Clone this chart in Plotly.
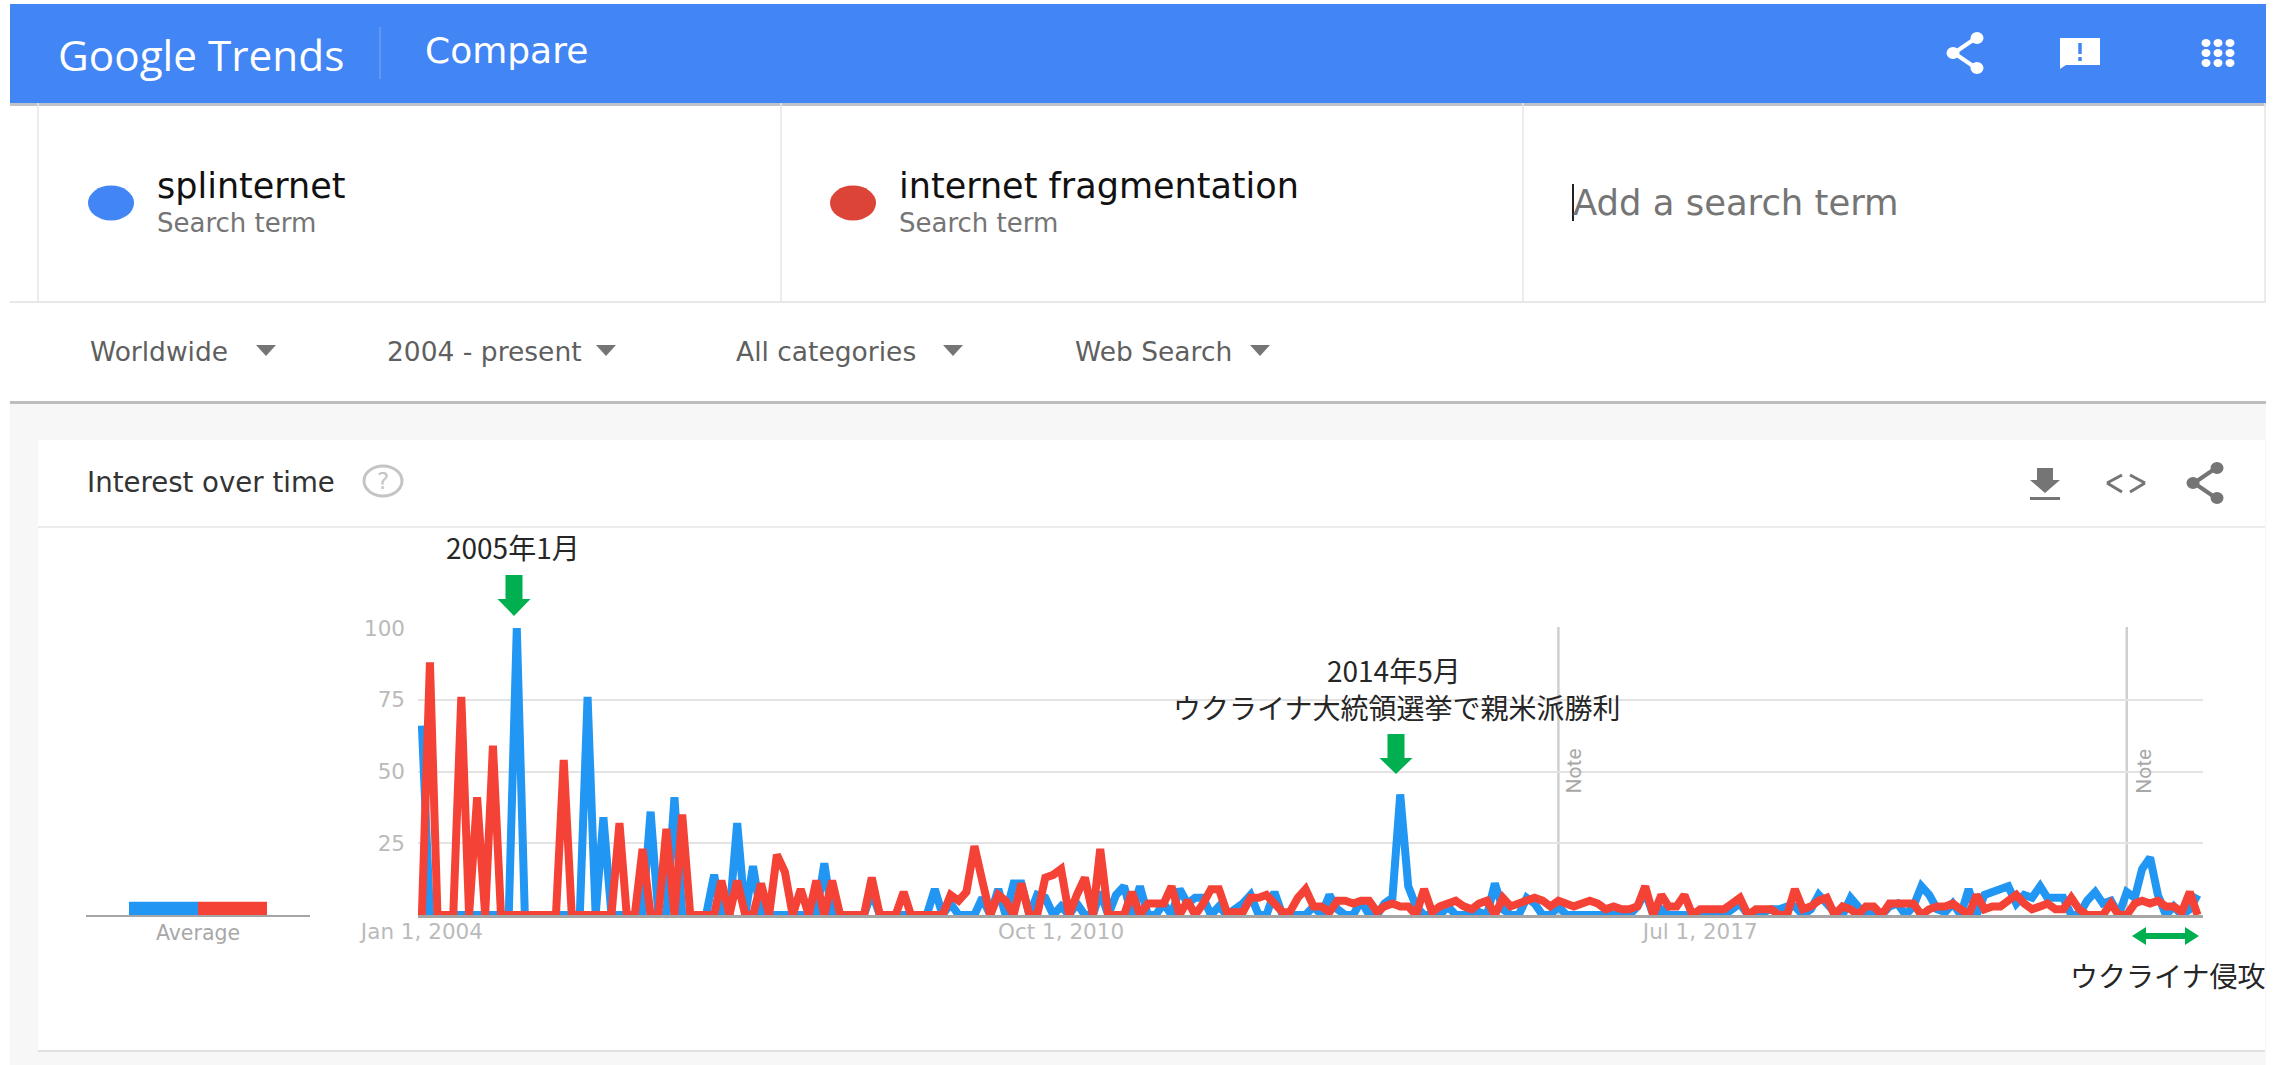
import plotly.graph_objects as go
import pandas as pd

W, H = 2280, 1065

# ---------- data ----------
start_month = "2004-01-01"
splinternet = [
    66,0,0,0,0,0,0,0,0,0,
    0,0,100,0,0,0,0,0,0,0,
    0,76,0,34,0,0,0,0,0,36,
    0,0,41,0,0,0,0,14,0,0,
    32,0,17,0,0,0,0,0,0,0,
    0,18,0,0,0,0,0,8,0,0,
    0,0,0,0,0,9,0,4,0,0,
    0,6,0,9,0,11,11,0,7,6,
    0,3,0,4,0,0,8,0,7,10,
    0,10,0,0,4,0,9,4,6,6,
    0,3,0,2,4,7,0,0,8,0,
    0,0,0,3,0,7,2,0,0,5,
    0,0,4,6,42,10,3,0,0,0,
    3,0,0,0,1,0,11,2,0,0,
    6,4,0,0,3,0,0,0,0,0,
    0,0,0,0,3,8,0,2,0,0,
    0,0,0,0,0,0,2,4,0,0,
    1,2,2,3,3,0,2,7,4,1,
    0,6,3,0,2,0,3,4,0,3,
    10,7,2,1,4,0,9,0,7,8,
    9,10,4,7,6,10,6,6,6,0,
    0,5,8,4,5,0,8,6,16,20,
    7,0,3,0,2,7,
]
internet_fragmentation = [
    0,88,0,0,0,76,0,41,0,59,
    0,0,0,0,0,0,0,0,54,0,
    0,0,0,0,0,32,0,0,23,0,
    0,30,0,35,0,0,0,0,12,0,
    12,0,0,11,0,21,15,0,9,0,
    12,0,12,0,0,0,0,13,0,0,
    0,8,0,0,0,0,0,7,5,8,
    24,12,0,7,5,0,11,0,0,13,
    14,16,0,7,13,0,23,0,0,0,
    8,0,4,4,4,10,0,5,0,4,
    9,9,1,1,1,6,6,7,4,1,
    1,6,9,3,3,1,5,5,4,5,
    5,1,3,4,3,3,0,9,1,3,
    4,5,3,2,4,5,0,6,3,4,
    5,6,5,3,5,4,3,4,5,4,
    2,3,2,2,3,10,0,7,3,3,
    7,0,2,2,2,2,4,6,0,2,
    2,2,0,0,9,2,3,5,6,0,
    3,2,0,3,3,0,4,4,4,4,
    0,2,3,3,4,2,0,7,2,3,
    3,5,7,4,2,3,4,2,2,6,
    2,0,0,0,4,0,0,4,5,4,
    5,3,3,1,8,0,
]
months = pd.date_range(start_month, periods=len(splinternet), freq="MS").strftime("%Y-%m-%d").tolist()
average_values = [4.6, 4.6]
date_ticks = ["2004-01-01", "2010-10-01", "2017-07-01"]
value_ticks = [25, 50, 75, 100]
note_dates = ["2016-01-01", "2022-01-01"]
filter_labels = ["Worldwide", "2004 - present", "All categories", "Web Search"]

BLUE_LINE, RED_LINE = "#2196f3", "#f44336"
HEADER_BLUE, CHIP_RED = "#4285f4", "#db4437"
GREEN = "#00b050"
UI = "DejaVu Sans"

def px(x): return x / W
def py(y): return 1 - y / H

shapes, annos = [], []

def rect(x0, y0, x1, y1, color, layer="below"):
    shapes.append(dict(type="rect", xref="paper", yref="paper", x0=px(x0), x1=px(x1),
                       y0=py(y1), y1=py(y0), fillcolor=color, line=dict(width=0), layer=layer))

def hline(x0, x1, y, color, w=1.5):
    shapes.append(dict(type="line", xref="paper", yref="paper", x0=px(x0), x1=px(x1), y0=py(y), y1=py(y),
                       line=dict(color=color, width=w), layer="below"))

def vline(x, y0, y1, color, w=1.5):
    shapes.append(dict(type="line", xref="paper", yref="paper", x0=px(x), x1=px(x), y0=py(y0), y1=py(y1),
                       line=dict(color=color, width=w), layer="below"))

def ellipse(cx, cy, rx, ry, fill=None, line=None, lw=0):
    shapes.append(dict(type="circle", xref="paper", yref="paper", x0=px(cx - rx), x1=px(cx + rx),
                       y0=py(cy + ry), y1=py(cy - ry), fillcolor=fill or "rgba(0,0,0,0)",
                       line=dict(color=line or "rgba(0,0,0,0)", width=lw), layer="above"))

def poly(points, color):
    d = "M " + " L ".join(f"{px(x):.5f},{py(y):.5f}" for x, y in points) + " Z"
    shapes.append(dict(type="path", xref="paper", yref="paper", path=d, fillcolor=color,
                       line=dict(width=0), layer="above"))

def seg(x0, y0, x1, y1, color, w):
    shapes.append(dict(type="line", xref="paper", yref="paper", x0=px(x0), x1=px(x1), y0=py(y0), y1=py(y1),
                       line=dict(color=color, width=w), layer="above"))

def text(x, y, s, size, color, anchor="left", family=UI, angle=0):
    annos.append(dict(xref="paper", yref="paper", x=px(x), y=py(y), text=s, showarrow=False,
                      xanchor=anchor, yanchor="middle", textangle=angle, borderpad=0, borderwidth=0,
                      font=dict(size=size, color=color, family=family)))

def share(cx, cy, color):
    for (x0, y0, x1, y1) in [(cx + 11, cy - 15, cx - 11, cy), (cx - 11, cy, cx + 11, cy + 15)]:
        seg(x0, y0, x1, y1, color, 4)
    ellipse(cx + 12, cy - 15, 6.5, 6, fill=color)
    ellipse(cx - 12, cy, 6.5, 6, fill=color)
    ellipse(cx + 12, cy + 15, 6.5, 6, fill=color)

def arrow_down(cx, top, neck, tip):
    poly([(cx - 8.5, top), (cx + 8.5, top), (cx + 8.5, neck), (cx + 16.5, neck), (cx, tip),
          (cx - 16.5, neck), (cx - 8.5, neck)], GREEN)

def triangle(cx, cy, color="#757575"):
    poly([(cx - 10, cy - 5), (cx + 10, cy - 5), (cx, cy + 6)], color)

# ---------- page ----------
rect(10, 403, 2266, 1065, "#f7f7f7")
rect(10, 401, 2266, 404, "#bdbdbd")
rect(38, 440, 2265, 1050, "#ffffff")
rect(38, 1050, 2265, 1052, "#e0e0e0")
rect(10, 103, 2266, 106, "#bfc3c9")
rect(10, 4, 2266, 103, HEADER_BLUE)
hline(38, 2265, 527, "#e6e6e6")
hline(10, 2266, 302, "#e0e0e0")
for x in (38, 781, 1523, 2265):
    vline(x, 103, 302, "#e6e6e6")
vline(380, 27, 79, "#6c9df6", 1.5)

text(58, 55, "Google Trends", 42.3, "#ffffff", family="Open Sans")
text(425, 50, "Compare", 36, "#ffffff")

ellipse(111, 203, 23, 17.5, fill=HEADER_BLUE)
ellipse(853, 203, 23, 17.5, fill=CHIP_RED)
text(157, 186, "splinternet", 35, "#111111")
text(157, 223, "Search term", 26, "#757575")
text(899, 186, "internet fragmentation", 35, "#111111")
text(899, 223, "Search term", 26, "#757575")
text(1573, 202, "Add a search term", 35.4, "#757575")
vline(1573, 184, 221, "#222222", 2)

for label, x, tri in zip(filter_labels, (90, 387, 736, 1075), (266, 606, 953, 1260)):
    text(x, 352, label, 26.5, "#5f5f5f")
    triangle(tri, 350)

share(1965, 53, "#ffffff")
poly([(2060, 38), (2100, 38), (2100, 65), (2066, 65), (2060, 69)], "#ffffff")
seg(2080, 43, 2080, 54, HEADER_BLUE, 3.5)
seg(2080, 57, 2080, 61, HEADER_BLUE, 3.5)
for dx in (-12, 0, 12):
    for dy in (-10, 0, 10):
        ellipse(2218 + dx, 53 + dy, 4.5, 4, fill="#ffffff")

text(87, 482, "Interest over time", 27.6, "#333333")
ellipse(383, 481, 19, 15, line="#c4c4c4", lw=3)
text(383, 481, "?", 23, "#c4c4c4", anchor="center")

poly([(2037, 468), (2053, 468), (2053, 480), (2060, 480), (2045, 493), (2030, 480), (2037, 480)], "#757575")
poly([(2030, 497), (2060, 497), (2060, 500), (2030, 500)], "#757575")
seg(2122, 475, 2107, 483, "#757575", 3)
seg(2107, 483, 2122, 492, "#757575", 3)
seg(2130, 475, 2145, 483, "#757575", 3)
seg(2145, 483, 2130, 492, "#757575", 3)
share(2205, 483, "#757575")

# ---------- annotations ----------
JP = "Noto Sans CJK JP"
text(513, 547, "2005年1月", 28, "#262626", anchor="center", family=JP)
arrow_down(514, 575, 599, 616)
text(1394, 670, "2014年5月", 28, "#262626", anchor="center", family=JP)
text(1396, 707, "ウクライナ大統領選挙で親米派勝利", 28, "#262626", anchor="center", family=JP)
arrow_down(1396, 734, 758, 774)
text(2167, 975, "ウクライナ侵攻", 28, "#262626", anchor="center", family=JP)
poly([(2132, 936), (2146, 927), (2146, 933), (2185, 933), (2185, 927), (2199, 936),
      (2185, 945), (2185, 939), (2146, 939), (2146, 945)], GREEN)

# ---------- notes ----------
for d, dx in zip(note_dates, (16, 17)):
    shapes.append(dict(type="line", xref="x", yref="paper", x0=d, x1=d, y0=py(915), y1=py(627),
                       line=dict(color="#cfcfcf", width=2.5), layer="below"))
    annos.append(dict(xref="x", yref="paper", x=d, y=py(771), text="Note", showarrow=False, textangle=-90,
                      xanchor="center", yanchor="middle", xshift=dx,
                      font=dict(size=21, color="#a8a8a8", family="Roboto")))

# ---------- figure ----------
fig = go.Figure()
fig.add_trace(go.Scatter(x=months, y=splinternet, name="splinternet", mode="lines",
                         line=dict(color=BLUE_LINE, width=8)))
fig.add_trace(go.Scatter(x=months, y=internet_fragmentation, name="internet fragmentation", mode="lines",
                         line=dict(color=RED_LINE, width=8)))
fig.add_trace(go.Bar(x=[0], y=[average_values[0]], width=1, xaxis="x2", yaxis="y2",
                     marker=dict(color=BLUE_LINE, line=dict(width=0)), name="splinternet"))
fig.add_trace(go.Bar(x=[1], y=[average_values[1]], width=1, xaxis="x2", yaxis="y2",
                     marker=dict(color=RED_LINE, line=dict(width=0)), name="internet fragmentation"))

tickfont = dict(size=21.5, color="#bababa", family=UI)
fig.update_layout(
    width=W, height=H, margin=dict(l=0, r=0, t=0, b=0, pad=0, autoexpand=False), showlegend=False,
    paper_bgcolor="#ffffff", plot_bgcolor="rgba(0,0,0,0)", barmode="overlay",
    shapes=shapes, annotations=annos,
    xaxis=dict(domain=[px(418), px(2203)], type="date", range=["2003-12-17", "2022-10-22"], automargin=False,
               tickmode="array", tickvals=date_ticks, tickformat="%b %-d, %Y", tickfont=tickfont,
               ticks="", showgrid=False, zeroline=False, showline=True, linecolor="#a6a6a6", linewidth=3,
               anchor="y", ticklabelstandoff=-5),
    yaxis=dict(domain=[py(915), py(628)], range=[0, 100], tickmode="array", tickvals=value_ticks, automargin=False,
               tickfont=tickfont, showgrid=True, gridcolor="#e3e3e3", gridwidth=2, zeroline=False,
               showline=False, ticks="", ticklabelstandoff=12, anchor="x"),
    xaxis2=dict(domain=[px(86), px(310)], range=[-1.123, 2.123], tickmode="array", tickvals=[0.5], automargin=False,
                ticktext=["Average"], tickfont=dict(size=20.5, color="#a8a8a8", family=UI),
                showgrid=False, zeroline=False, showline=True, linecolor="#a6a6a6", linewidth=2,
                ticks="", anchor="y2", ticklabelstandoff=-2),
    yaxis2=dict(domain=[py(915), py(628)], range=[0, 100], showgrid=False, zeroline=False, automargin=False,
                showticklabels=False, ticks="", anchor="x2"),
)

fig.write_html("out.html", config=dict(displayModeBar=False),
               post_script="document.body.style.margin='0';document.body.style.overflow='hidden';")
